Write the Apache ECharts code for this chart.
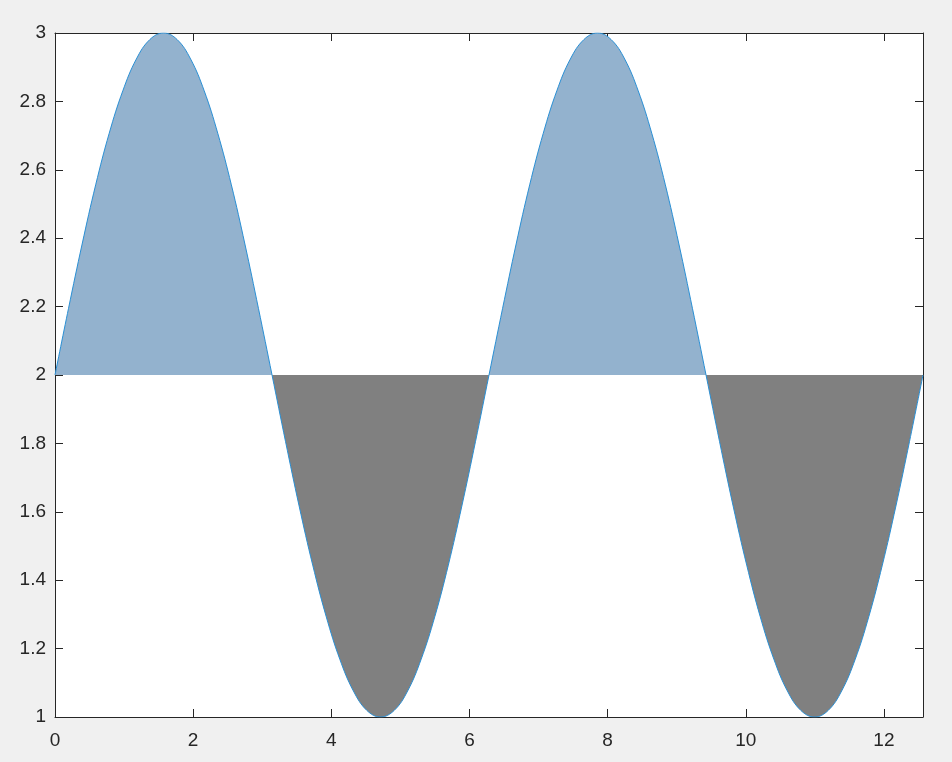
<!DOCTYPE html>
<html>
<head>
<meta charset="utf-8">
<script src="https://cdn.jsdelivr.net/npm/echarts@6/dist/echarts.min.js"></script>
<style>
html,body{margin:0;padding:0;background:#f0f0f0;}
#c{width:952px;height:762px;}
</style>
</head>
<body>
<div id="c"></div>
<script>
// x positions and y values
const xs = [0, 0.196, 0.393, 0.589, 0.785, 0.982, 1.178, 1.374, 1.571, 1.767, 1.963, 2.160, 2.356, 2.553, 2.749, 2.945,
  3.142, 3.338, 3.534, 3.731, 3.927, 4.123, 4.320, 4.516, 4.712, 4.909, 5.105, 5.301, 5.498, 5.694, 5.890, 6.087,
  6.283, 6.480, 6.676, 6.872, 7.069, 7.265, 7.461, 7.658, 7.854, 8.050, 8.247, 8.443, 8.639, 8.836, 9.032, 9.228,
  9.425, 9.621, 9.817, 10.014, 10.210, 10.407, 10.603, 10.799, 10.996, 11.192, 11.388, 11.585, 11.781, 11.977, 12.174, 12.370,
  12.566];
const ys = [2, 2.195, 2.383, 2.556, 2.707, 2.831, 2.924, 2.981, 3, 2.981, 2.924, 2.831, 2.707, 2.556, 2.383, 2.195,
  2, 1.805, 1.617, 1.444, 1.293, 1.169, 1.076, 1.019, 1, 1.019, 1.076, 1.169, 1.293, 1.444, 1.617, 1.805,
  2, 2.195, 2.383, 2.556, 2.707, 2.831, 2.924, 2.981, 3, 2.981, 2.924, 2.831, 2.707, 2.556, 2.383, 2.195,
  2, 1.805, 1.617, 1.444, 1.293, 1.169, 1.076, 1.019, 1, 1.019, 1.076, 1.169, 1.293, 1.444, 1.617, 1.805,
  2];
const baseline = 2;
const xTicks = [0, 2, 4, 6, 8, 10, 12];

const points = xs.map((x, i) => [x, ys[i]]);
const yMax = Math.max.apply(null, ys), yMin = Math.min.apply(null, ys);
const split = (yMax - baseline) / (yMax - yMin);
const font = 'Helvetica, "Liberation Sans", Arial, sans-serif';
const txt = '#262626';
const blueFill = '#93b2ce', grayFill = '#808080';

const chart = echarts.init(document.getElementById('c'), null, {renderer: 'canvas'});
const tickStyle = {show: true, inside: true, length: 8, lineStyle: {color: txt, width: 1}};
const lineStyle = {show: true, onZero: false, lineStyle: {color: txt, width: 1}};
chart.setOption({
  backgroundColor: '#f0f0f0',
  animation: false,
  grid: {left: 55, top: 33, width: 868, height: 684, show: true, backgroundColor: '#ffffff', borderWidth: 0},
  xAxis: [
    {type: 'value', min: 0, max: 12.566, interval: 2, position: 'bottom',
      axisLine: lineStyle, axisTick: tickStyle, splitLine: {show: false},
      axisLabel: {show: true, color: txt, fontSize: 19, fontFamily: font, margin: 14, showMaxLabel: false,
        formatter: v => (xTicks.indexOf(Math.round(v * 1000) / 1000) >= 0 ? String(v) : '')}},
    {type: 'value', min: 0, max: 12.566, interval: 2, position: 'top',
      axisLine: lineStyle, axisTick: tickStyle, splitLine: {show: false},
      axisLabel: {show: false}}
  ],
  yAxis: [
    {type: 'value', min: 1, max: 3, interval: 0.2, position: 'left',
      axisLine: lineStyle, axisTick: tickStyle, splitLine: {show: false},
      axisLabel: {show: true, color: txt, fontSize: 19, fontFamily: font, margin: 9,
        formatter: v => String(Math.round(v * 10) / 10)}},
    {type: 'value', min: 1, max: 3, interval: 0.2, position: 'right',
      axisLine: lineStyle, axisTick: tickStyle, splitLine: {show: false},
      axisLabel: {show: false}}
  ],
  series: [{
    type: 'line',
    data: points,
    smooth: 0.4,
    showSymbol: false,
    symbol: 'none',
    lineStyle: {color: '#2a8fd4', width: 1},
    areaStyle: {
      origin: baseline, opacity: 1,
      color: {type: 'linear', x: 0, y: 0, x2: 0, y2: 1, colorStops: [
        {offset: 0, color: blueFill}, {offset: split, color: blueFill},
        {offset: split, color: grayFill}, {offset: 1, color: grayFill}
      ]}
    },
    z: 2
  }]
});
</script>
</body>
</html>
